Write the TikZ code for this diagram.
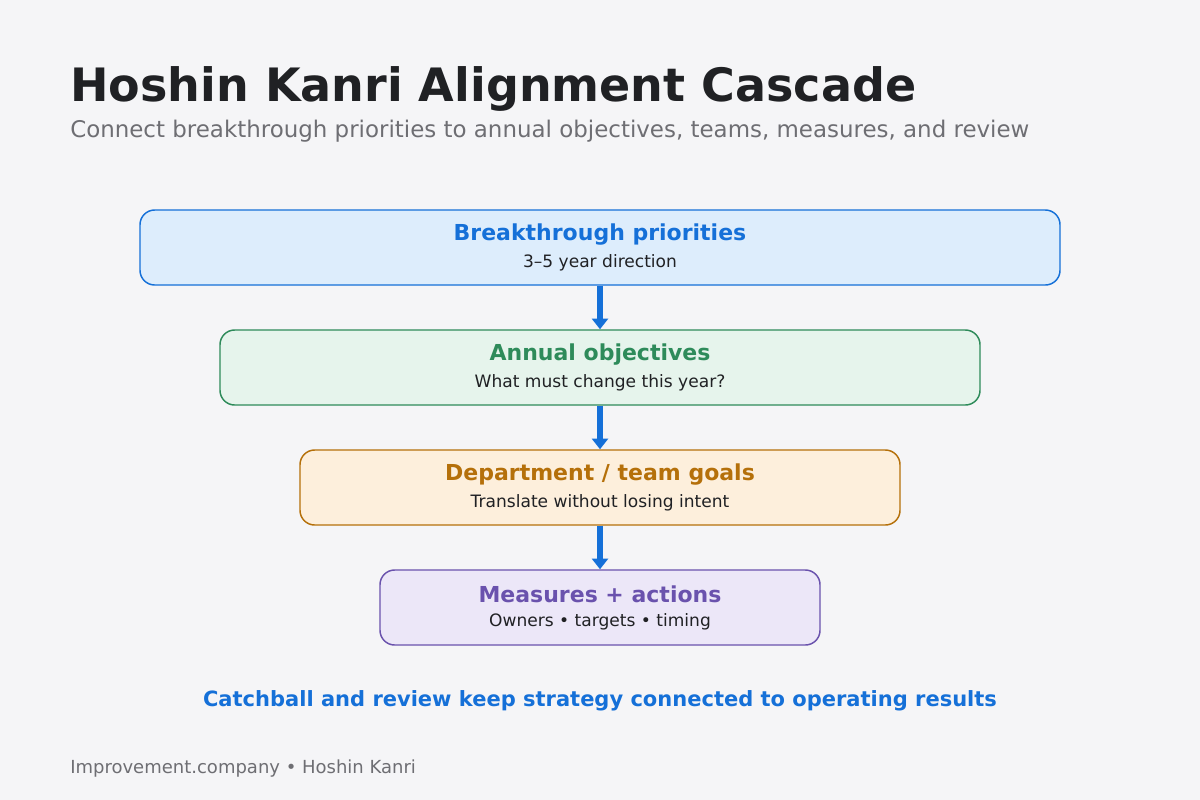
\documentclass[tikz,border=0pt]{standalone}
\usepackage{fontspec}
\setmainfont{DejaVu Sans}
\usetikzlibrary{positioning,arrows.meta}
\definecolor{bgc}{HTML}{F5F5F7}
\definecolor{bluec}{HTML}{1570D8}
\definecolor{bluef}{HTML}{DDEDFC}
\definecolor{greenc}{HTML}{2E8B5A}
\definecolor{greenf}{HTML}{E6F4EC}
\definecolor{orangec}{HTML}{B5700A}
\definecolor{orangef}{HTML}{FDEFDC}
\definecolor{purplec}{HTML}{6A52AD}
\definecolor{purplef}{HTML}{ECE7F8}
\definecolor{titlec}{HTML}{202124}
\definecolor{greyc}{HTML}{6E6E73}
\begin{document}
\begin{tikzpicture}
  [
  x=0.75pt, y=-0.75pt,
  stage/.style={rectangle, rounded corners=11pt, line width=1.1pt, minimum height=56.25pt, align=center, inner sep=0pt},
  flow/.style={-{Triangle[length=8pt,width=12pt]}, line width=4.5pt, draw=bluec}
  ]
\fill[bgc] (0,0) rectangle (1200,800);
\useasboundingbox (0,0) rectangle (1200,800);

\node[anchor=base west, inner sep=0pt, font=\bfseries\fontsize{34.5}{40}\selectfont, text=titlec] (title) at (70,101) {Hoshin Kanri Alignment Cascade};
\node[anchor=base west, inner sep=0pt, font=\fontsize{17.2}{20}\selectfont, text=greyc] (subtitle) at (70,137) {Connect breakthrough priorities to annual objectives, teams, measures, and review};

\node[stage, draw=bluec, fill=bluef, minimum width=690pt] (s1) at (600,247.5)
  {{\bfseries\fontsize{16.5}{18}\selectfont\color{bluec}Breakthrough priorities}\\[6pt]{\fontsize{12.8}{14}\selectfont\color{titlec}3–5 year direction}};
\node[stage, draw=greenc, fill=greenf, minimum width=570pt] (s2) at (600,367.5)
  {{\bfseries\fontsize{16.5}{18}\selectfont\color{greenc}Annual objectives}\\[6pt]{\fontsize{12.8}{14}\selectfont\color{titlec}What must change this year?}};
\node[stage, draw=orangec, fill=orangef, minimum width=450pt] (s3) at (600,487.5)
  {{\bfseries\fontsize{16.5}{18}\selectfont\color{orangec}Department / team goals}\\[6pt]{\fontsize{12.8}{14}\selectfont\color{titlec}Translate without losing intent}};
\node[stage, draw=purplec, fill=purplef, minimum width=330pt] (s4) at (600,607.5)
  {{\bfseries\fontsize{16.5}{18}\selectfont\color{purplec}Measures + actions}\\[6pt]{\fontsize{12.8}{14}\selectfont\color{titlec}Owners • targets • timing}};

\draw[flow] (s1.south) -- (s2.north);
\draw[flow] (s2.south) -- (s3.north);
\draw[flow] (s3.south) -- (s4.north);

\node[font=\bfseries\fontsize{15.75}{18}\selectfont, text=bluec] (note) at (600,701) {Catchball and review keep strategy connected to operating results};
\node[anchor=base west, inner sep=0pt, font=\fontsize{13.5}{16}\selectfont, text=greyc] (footer) at (70,773) {Improvement.company • Hoshin Kanri};
\end{tikzpicture}
\end{document}
